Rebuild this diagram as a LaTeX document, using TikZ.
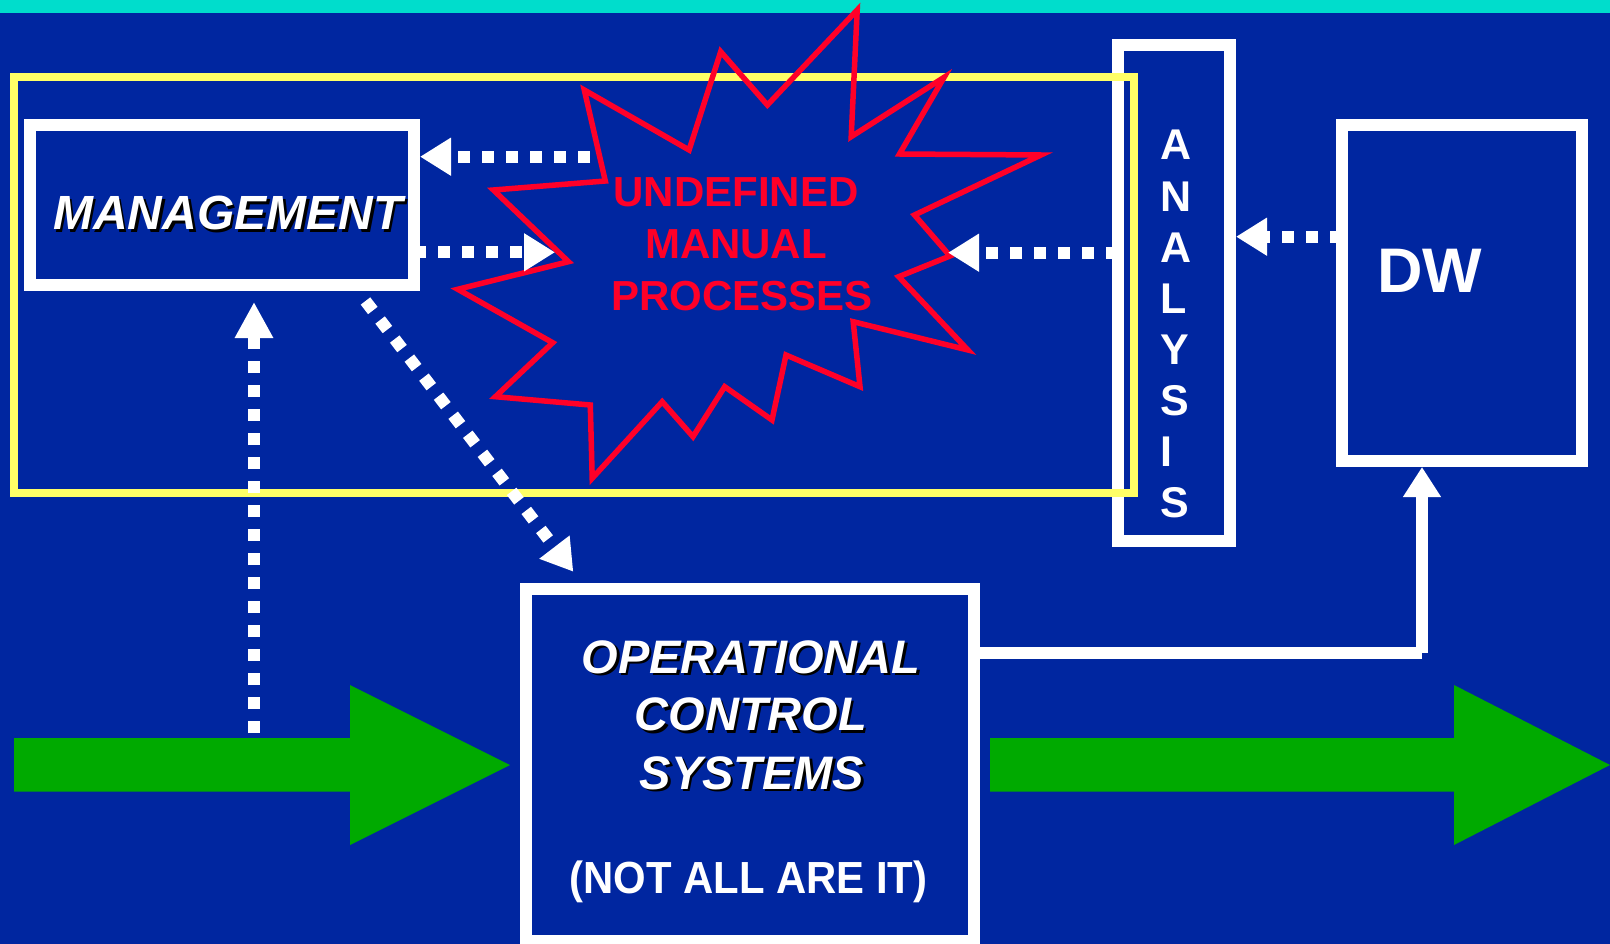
\documentclass[tikz,border=0pt]{standalone}
\usepackage{graphicx}
\usepackage{fontspec}
\setmainfont{Liberation Sans}
\usetikzlibrary{arrows.meta,calc}

\definecolor{bgblue}{RGB}{0,38,160}
\definecolor{topcyan}{RGB}{0,221,204}
\definecolor{frameyellow}{RGB}{255,255,102}
\definecolor{flowgreen}{RGB}{0,170,0}
\definecolor{alertred}{RGB}{255,0,40}

% white text with a black drop shadow behind it
\newcommand\dropshadow[1]{\makebox[0pt][l]{\hspace{2.5pt}\raisebox{-2.5pt}{\color{black}#1}}#1}

\begin{document}
\begin{tikzpicture}[x=1pt,y=-1pt,
  box/.style={draw=white, line width=12pt, inner sep=0pt},
  dotarrow/.style={draw=white, line width=12pt, dash pattern=on 12pt off 12pt,
    -{Triangle[length=31pt,width=36pt]}},
  solidarrow/.style={draw=white, line width=12pt},
  flow/.style={fill=flowgreen},
  shadowlabel/.style={text=white, inner sep=0pt, anchor=base,
    font=\fontsize{47pt}{56pt}\selectfont\bfseries\itshape},
  redlabel/.style={text=alertred, inner sep=0pt, anchor=base,
    font=\fontsize{42pt}{50pt}\selectfont\bfseries},
  letter/.style={text=white, inner sep=0pt, anchor=base west,
    font=\fontsize{43pt}{50pt}\selectfont\bfseries}
]
\path[use as bounding box] (0,0) rectangle (1610,944);
\clip (0,0) rectangle (1610,944);

% background and top band
\fill[bgblue] (0,0) rectangle (1610,944);
\fill[topcyan] (0,0) rectangle (1610,12.7);

% boxes
\node[box, minimum width=112pt, minimum height=496pt] (ana) at (1174,293) {};
\node[box, minimum width=384pt, minimum height=160pt] (mgmt) at (222,205) {};
\node[box, minimum width=240pt, minimum height=336pt] (dw) at (1462,293) {};
\node[box, minimum width=448pt, minimum height=352pt] (ocs) at (750,765) {};

% management frame
\draw[frameyellow, line width=8pt] (13.8,77) rectangle (1134,493);

% explosion outline
\draw[alertred, line width=5.5pt, line join=miter]
  (584.3,90) -- (689.1,150) -- (720.7,51.7) -- (767.4,105) -- (857.2,10)
  -- (851.2,136.7) -- (944.1,77.3) -- (899.5,154) -- (1041,155) -- (914.5,215)
  -- (950,256) -- (898.7,276.7) -- (967.9,350) -- (853.2,321.7) -- (860,386.7)
  -- (786,355) -- (772,420) -- (724.7,386.7) -- (693,436.7) -- (662.2,401.7)
  -- (592.2,478.3) -- (590.3,405) -- (495.4,396.7) -- (552.7,342.7)
  -- (457.8,289.3) -- (568.5,261.7) -- (493.4,190) -- (605.3,181) -- cycle;

% green flow arrows
\fill[flow] (14,738) -- (350,738) -- (350,685) -- (510,765) -- (350,845)
  -- (350,791.5) -- (14,791.5) -- cycle;
\fill[flow] (990,738) -- (1454,738) -- (1454,685) -- (1610,765) -- (1454,845)
  -- (1454,791.5) -- (990,791.5) -- cycle;

% dotted connectors
\coordinate (s-top) at (590,156.7);
\draw[dotarrow] (s-top) -- (s-top -| mgmt.east);
\coordinate (s-left) at (555,252.3);
\draw[dotarrow, dash phase=6pt] (mgmt.east |- s-left) -- (s-left);
\coordinate (s-right) at (948,252.7);
\draw[dotarrow, dash phase=6pt] (ana.west |- s-right) -- (s-right);
\draw[dotarrow, dash phase=6pt] ([yshift=56.3pt]dw.west) -- ([yshift=56.3pt]ana.east);
\coordinate (g-up) at (254,733);
\draw[dotarrow, -{Triangle[length=36pt,width=36pt]}, shorten >=11pt]
  (g-up) -- (g-up |- mgmt.south);
\coordinate (d0) at (365.5,301);
\coordinate (d1) at (573.3,571.7);
\draw[dotarrow] (d0) -- (d1);

% solid feed from operational systems to the warehouse
\coordinate (bend) at (1422,653);
\draw[solidarrow] ([yshift=112pt]ocs.east) -- (bend);
\draw[solidarrow, -{Triangle[length=30pt,width=36pt]}] (bend) -- (bend |- dw.south);

% labels
\node[shadowlabel, font=\fontsize{48pt}{58pt}\selectfont\bfseries\itshape]
  (mgmt-t) at (228,230) {\dropshadow{MANAGEMENT}};

\node[redlabel] (u1) at (736,207) {UNDEFINED};
\node[redlabel] (u2) at (736,259) {MANUAL};
\node[redlabel] (u3) at (742,310.7) {PROCESSES};

\foreach \ch [count=\i] in {A,N,A,L,Y,S,I,S}
  \node[letter] (ana-\i) at (1160,{160+51.1*(\i-1)}) {\ch};

\node[text=white, inner sep=0pt, anchor=base west,
  font=\fontsize{63pt}{70pt}\selectfont\bfseries] (dw-t) at (1377,293) {DW};

\node[shadowlabel] (ocs-1) at (751,673) {\dropshadow{OPERATIONAL}};
\node[shadowlabel] (ocs-2) at (751,730.7) {\dropshadow{CONTROL}};
\node[shadowlabel] (ocs-3) at (752,789) {\dropshadow{SYSTEMS}};
\node[text=white, inner sep=0pt, anchor=base,
  font=\fontsize{45pt}{52pt}\selectfont\bfseries]
  (ocs-4) at (748.5,893) {\scalebox{0.93}[1]{(NOT ALL ARE IT)}};
\end{tikzpicture}
\end{document}
